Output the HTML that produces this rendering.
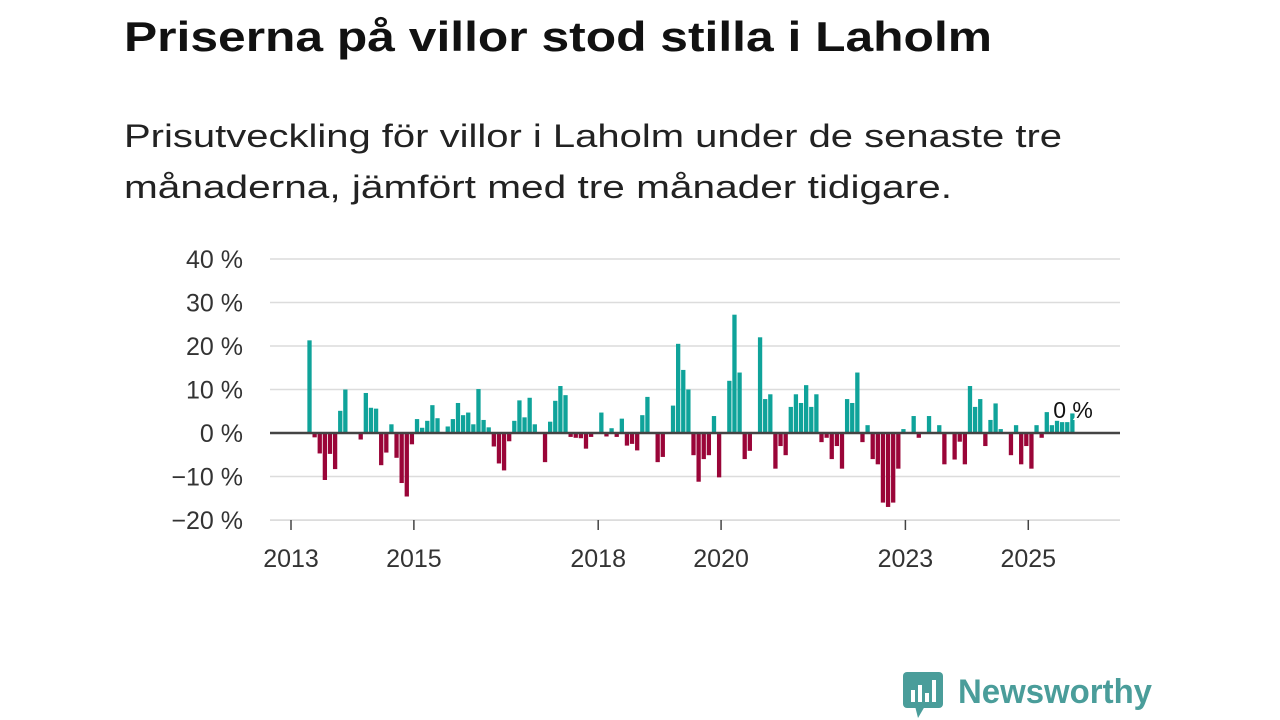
<!DOCTYPE html>
<html><head><meta charset="utf-8"><style>
html,body{margin:0;padding:0;background:#fff;}
svg{display:block;font-family:"Liberation Sans",sans-serif;}
</style></head><body>
<svg id="c" width="1280" height="720" viewBox="0 0 1280 720">
<text x="124" y="51" font-size="42" font-weight="bold" fill="#111" textLength="868" lengthAdjust="spacingAndGlyphs">Priserna på villor stod stilla i Laholm</text>
<text x="124" y="147" font-size="32" fill="#222" textLength="938" lengthAdjust="spacingAndGlyphs">Prisutveckling för villor i Laholm under de senaste tre</text>
<text x="124" y="198" font-size="32" fill="#222" textLength="828" lengthAdjust="spacingAndGlyphs">månaderna, jämfört med tre månader tidigare.</text>
<g id="grid"></g><g id="bars"></g><g id="axes"></g>
<g>
<rect x="903" y="672" width="40" height="36" rx="4" fill="#4a9d9a"/>
<polygon points="915,706 925,706 918,718" fill="#4a9d9a"/>
<rect x="911" y="690" width="4" height="12" fill="#fff"/><rect x="918" y="685" width="4" height="17" fill="#fff"/><rect x="925" y="693" width="4" height="9" fill="#fff"/><rect x="932" y="680" width="4" height="22" fill="#fff"/>
<text x="958" y="703" font-size="34" font-weight="bold" fill="#4a9d9a" textLength="194" lengthAdjust="spacingAndGlyphs">Newsworthy</text>
</g>
</svg>
<script>
const startMonth = 3; // April 2013, months since Jan 2013
const values = [21.3,-1,-4.7,-10.8,-4.8,-8.3,5.1,10,0,0,-1.5,9.2,5.8,5.6,-7.4,-4.5,2,-5.7,-11.5,-14.6,-2.6,3.2,1.2,2.8,6.4,3.4,0,1.5,3.2,6.9,4.1,4.7,2,10.1,3,1.3,-3.1,-7,
-8.6,-1.9,2.8,7.5,3.6,8.1,2,0,-6.7,2.6,7.4,10.8,8.7,-0.9,-1.1,-1.2,-3.6,-0.9,0,4.7,-0.8,1.1,-0.9,3.3,-2.9,-2.5,-4,4.1,8.3,0,-6.7,-5.5,0,6.3,20.5,14.5,10,-5.1,-11.2,
-6,-5.1,3.9,-10.2,0,12,27.2,13.9,-6,-4.1,0,22,7.8,8.9,-8.2,-3,-5.1,6,8.9,6.9,11,6,8.9,-2.1,-1.1,-6,-3,-8.2,7.8,6.9,13.9,-2.1,1.8,-6,
-7.2,-16,-17,-16,-8.2,0.9,0,3.9,-1.1,0,3.9,0,1.8,-7.2,0,-6.1,-2,-7.2,10.8,6,7.8,-3,3,6.8,0.9,0,-5.1,1.8,-7.2,-3,-8.2,1.8,-1.1,4.8,1.8,2.8,2.5,2.5,4.5];
const yTicks = [40,30,20,10,0,-10,-20];
const yTickLabels = ["40 %","30 %","20 %","10 %","0 %","−10 %","−20 %"];
const xTickYears = [2013,2015,2018,2020,2023,2025];
const lastLabel = "0 %";

const NS="http://www.w3.org/2000/svg";
const y = v => 433 - v*4.35;
const x = m => 291 + m*5.12;
function mk(tag,attrs,parent){const e=document.createElementNS(NS,tag);for(const k in attrs)e.setAttribute(k,attrs[k]);parent.appendChild(e);return e;}
const grid=document.getElementById('grid'), bars=document.getElementById('bars'), axes=document.getElementById('axes');
yTicks.forEach((t,i)=>{
  if(t!==0){const l=mk('line',{x1:270,x2:1120,y1:y(t),y2:y(t),stroke:'#dcdcdc','stroke-width':1.5},grid);
  
  }
  const tx=mk('text',{x:243,y:y(t)+9,'font-size':25,fill:'#333','text-anchor':'end'},axes);
  tx.textContent=yTickLabels[i];
  
  
});
values.forEach((v,i)=>{
  const m=startMonth+i;
  const r=mk('rect',{x:x(m)+1,width:4.3,y:Math.min(y(v),y(0)),height:Math.abs(y(v)-y(0)),fill:v>=0?'#0fa39a':'#9a0538'},bars);
  
  
});
const z=mk('line',{x1:270,x2:1120,y1:y(0),y2:y(0),stroke:'#444','stroke-width':2.5},axes);


mk('line',{x1:270,x2:1120,y1:520.5,y2:520.5,stroke:'#dcdcdc','stroke-width':1},axes);
xTickYears.forEach(yr=>{
  const xx=x((yr-2013)*12);
  const tk=mk('line',{x1:xx,x2:xx,y1:520,y2:530,stroke:'#444','stroke-width':1.5},axes);
  
  
  const tx=mk('text',{x:xx,y:567,'font-size':25,fill:'#333','text-anchor':'middle'},axes);
  tx.textContent=yr;
  
  
});
const lm=startMonth+values.length-1;
const ll=mk('text',{x:x(lm)-16,y:y(0)-15,'font-size':23,fill:'#111',stroke:'#fff','stroke-width':4,'paint-order':'stroke'},axes);
ll.textContent=lastLabel;


</script>
</body></html>
